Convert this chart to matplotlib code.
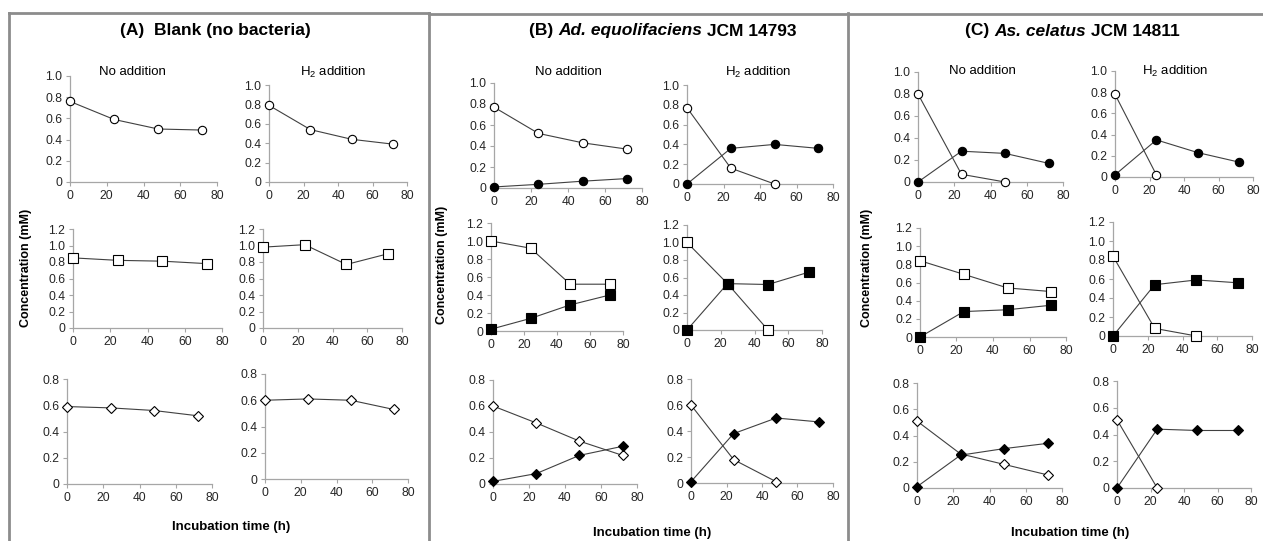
import numpy as np
import matplotlib
matplotlib.use("Agg")
import matplotlib.pyplot as plt
from matplotlib.lines import Line2D

plt.rcParams["font.family"] = ["Liberation Sans", "DejaVu Sans"]
plt.rcParams["mathtext.fontset"] = "custom"
plt.rcParams["mathtext.rm"] = "Liberation Sans"

nan = np.nan
time_h = [0, 24, 48, 72]

# (A) blank, no bacteria
a_circle_no = [0.76, 0.59, 0.50, 0.49]
a_circle_h2 = [0.79, 0.54, 0.44, 0.39]
a_square_no = [0.85, 0.82, 0.81, 0.78]
a_square_h2 = [0.98, 1.01, 0.77, 0.90]
a_diamond_no = [0.59, 0.58, 0.56, 0.52]
a_diamond_h2 = [0.60, 0.61, 0.60, 0.53]

# (B) Ad. equolifaciens: open = substrate, filled = product
b_circle_no_open = [0.77, 0.52, 0.43, 0.37]
b_circle_no_fill = [0.01, 0.035, 0.065, 0.09]
b_circle_h2_open = [0.77, 0.16, 0.0, nan]
b_circle_h2_fill = [0.0, 0.36, 0.40, 0.36]
b_square_no_open = [1.0, 0.92, 0.52, 0.52]
b_square_no_fill = [0.02, 0.14, 0.29, 0.40]
b_square_h2_open = [1.0, 0.53, 0.0, nan]
b_square_h2_fill = [0.0, 0.53, 0.52, 0.66]
b_diamond_no_open = [0.60, 0.47, 0.33, 0.22]
b_diamond_no_fill = [0.02, 0.08, 0.22, 0.29]
b_diamond_h2_open = [0.60, 0.18, 0.01, nan]
b_diamond_h2_fill = [0.01, 0.38, 0.50, 0.47]

# (C) As. celatus
c_circle_no_open = [0.80, 0.07, 0.0, nan]
c_circle_no_fill = [0.0, 0.28, 0.26, 0.17]
c_circle_h2_open = [0.78, 0.02, nan, nan]
c_circle_h2_fill = [0.02, 0.35, 0.23, 0.14]
c_square_no_open = [0.84, 0.69, 0.54, 0.50]
c_square_no_fill = [0.0, 0.28, 0.30, 0.35]
c_square_h2_open = [0.84, 0.08, 0.0, nan]
c_square_h2_fill = [0.0, 0.54, 0.59, 0.56]
c_diamond_no_open = [0.51, 0.26, 0.18, 0.10]
c_diamond_no_fill = [0.01, 0.25, 0.30, 0.34]
c_diamond_h2_open = [0.51, 0.0, nan, nan]
c_diamond_h2_fill = [0.0, 0.44, 0.43, 0.43]

W, H = 1263, 541
fig = plt.figure(figsize=(W / 100, H / 100), dpi=100)
fig.patch.set_facecolor("white")

AXIS_GREY = "#a6a6a6"
LINE_GREY = "#404040"


def make_axes(x0, x80, ytop, ybot, ymax):
    ax = fig.add_axes([x0 / W, 1 - ybot / H, (x80 - x0) / W, (ybot - ytop) / H])
    ax.set_xlim(0, 80)
    ax.set_ylim(0, ymax)
    ax.set_xticks([0, 20, 40, 60, 80])
    yt = np.round(np.arange(0, ymax + 0.01, 0.2), 1)
    ax.set_yticks(yt)
    ax.set_yticklabels(["0" if v == 0 else "%.1f" % v for v in yt])
    for s in ["top", "right"]:
        ax.spines[s].set_visible(False)
    for s in ["left", "bottom"]:
        ax.spines[s].set_color(AXIS_GREY)
        ax.spines[s].set_linewidth(0.9)
    ax.tick_params(length=3, width=0.8, color=AXIS_GREY, labelsize=8.7,
                   labelcolor="#262626", pad=2.5)
    ax.patch.set_alpha(0)
    return ax


def series(ax, y, marker, filled, ms):
    ax.plot(time_h, y, color=LINE_GREY, lw=0.8, marker=marker, ms=ms,
            mfc="black" if filled else "white", mec="black", mew=0.8,
            clip_on=False, zorder=4 if filled else 3)


def text_pieces(x, y, pieces, size):
    # pieces: list of (string, style); centred as one line at pixel (x, y)
    r = fig.canvas.get_renderer()
    objs = []
    total = 0
    for s, style in pieces:
        t = fig.text(0, 1 - y / H, s, fontsize=size, fontweight="bold",
                     fontstyle=style, va="center", ha="left")
        w = t.get_window_extent(renderer=r).width
        objs.append((t, w))
        total += w
    cur = x - total / 2
    for t, w in objs:
        t.set_x(cur / W)
        cur += w


# axes pixel frames: (x at 0, x at 80, y at top, y at 0)
frames = {
    "A": [[(70, 217, 76, 182), (269, 407, 85, 182)],
          [(73, 222, 229, 328), (263, 402, 229, 328)],
          [(67, 212, 379, 484), (265, 408, 374, 479)]],
    "B": [[(494, 642, 83, 188), (687, 833, 85, 184)],
          [(491, 623, 223, 331), (687, 822, 225, 330)],
          [(493, 637, 380, 484), (691, 833, 379, 483)]],
    "C": [[(918, 1063, 72, 182), (1115, 1253, 71, 177)],
          [(920, 1066, 228, 337), (1113, 1252, 222, 336)],
          [(917, 1062, 383, 488), (1117, 1251, 381, 488)]],
}
ymaxes = [1.0, 1.2, 0.8]
markers = [("o", 6.0), ("s", 6.5), ("D", 5.6)]

blank = [[a_circle_no, a_circle_h2], [a_square_no, a_square_h2],
         [a_diamond_no, a_diamond_h2]]
strain_b = [[(b_circle_no_open, b_circle_no_fill), (b_circle_h2_open, b_circle_h2_fill)],
            [(b_square_no_open, b_square_no_fill), (b_square_h2_open, b_square_h2_fill)],
            [(b_diamond_no_open, b_diamond_no_fill), (b_diamond_h2_open, b_diamond_h2_fill)]]
strain_c = [[(c_circle_no_open, c_circle_no_fill), (c_circle_h2_open, c_circle_h2_fill)],
            [(c_square_no_open, c_square_no_fill), (c_square_h2_open, c_square_h2_fill)],
            [(c_diamond_no_open, c_diamond_no_fill), (c_diamond_h2_open, c_diamond_h2_fill)]]

for row in range(3):
    m, ms = markers[row]
    for col in range(2):
        ax = make_axes(*frames["A"][row][col], ymaxes[row])
        series(ax, blank[row][col], m, False, ms)
        for key, data in (("B", strain_b), ("C", strain_c)):
            ax = make_axes(*frames[key][row][col], ymaxes[row])
            series(ax, data[row][col][0], m, False, ms)
            series(ax, data[row][col][1], m, True, ms)

# condition headings
for xn, xh, y in [(132, 333, 72), (568, 758, 72), (982, 1175, 71)]:
    fig.text(xn / W, 1 - y / H, "No addition", fontsize=9.5, ha="center", va="center")
    fig.text(xh / W, 1 - y / H, "H$_2$ addition", fontsize=9.5, ha="center", va="center")

# panel titles
text_pieces(215, 31, [("(A)  Blank (no bacteria)", "normal")], 12.5)
text_pieces(663, 31, [("(B) ", "normal"), ("Ad. equolifaciens", "italic"),
                      (" JCM 14793", "normal")], 12.5)
text_pieces(1072, 31, [("(C) ", "normal"), ("As. celatus", "italic"),
                       (" JCM 14811", "normal")], 12.5)

# shared axis labels per panel
for xc, yc in [(26, 268), (442, 265), (867, 268)]:
    fig.text(xc / W, 1 - yc / H, "Concentration (mM)", fontsize=9,
             fontweight="bold", rotation=90, ha="center", va="center")
for xc, yc in [(231, 527), (652, 533), (1070, 533)]:
    fig.text(xc / W, 1 - yc / H, "Incubation time (h)", fontsize=9.5,
             fontweight="bold", ha="center", va="center")

# panel frames
frame_kw = dict(color="#8c8c8c", lw=2.0, transform=fig.transFigure)
fig.add_artist(Line2D([9 / W, 429 / W], [1 - 13 / H, 1 - 13 / H], **frame_kw))
fig.add_artist(Line2D([429 / W, 1263 / W], [1 - 14 / H, 1 - 14 / H], **frame_kw))
for xv in [9, 429, 848]:
    fig.add_artist(Line2D([xv / W, xv / W], [1 - 13 / H, 0], **frame_kw))

fig.savefig("out.png", dpi=100, facecolor="white")
